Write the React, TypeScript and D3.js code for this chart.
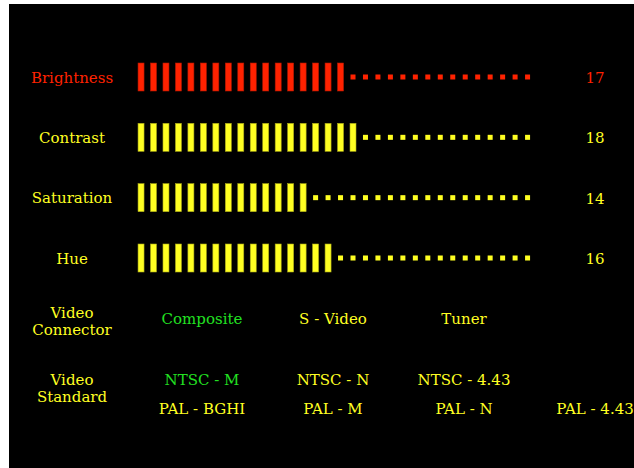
import React from 'react';
import * as d3 from 'd3';

// OSD style picture settings menu
const settingNames = ['Brightness', 'Contrast', 'Saturation', 'Hue'];
const settingLevels = [17, 18, 14, 16];
const maxLevel = 32;
const selectedSetting = 0;

const connectorOptions = ['Composite', 'S - Video', 'Tuner'];
const selectedConnector = 0;
const ntscOptions = ['NTSC - M', 'NTSC - N', 'NTSC - 4.43'];
const palOptions = ['PAL - BGHI', 'PAL - M', 'PAL - N', 'PAL - 4.43'];
const selectedStandard = 'NTSC - M';

const W = 634;
const H = 468;

const RED = '#ff2200';
const RED_EDGE = '#b01800';
const YELLOW = '#ffff22';
const YELLOW_EDGE = '#a8a818';
const GREEN = '#22e022';

const FONT = '"DejaVu Serif", serif';

const App: React.FC = () => {
  const steps = d3.range(maxLevel);
  const x = d3.scaleBand<number>().domain(steps).range([134.8, 533.8]);
  const y = d3.scalePoint<string>().domain(settingNames).range([77, 258]);
  const col = d3.scalePoint<number>().domain(d3.range(4)).range([202, 595]);

  const barW = 6;
  const barH = 28;
  const dot = 5;

  const txt = (s: string, tx: number, ty: number, fill: string, key: string) => (
    <text
      key={key}
      x={tx}
      y={ty}
      fill={fill}
      textAnchor="middle"
      fontFamily={FONT}
      fontSize={15}
    >
      {s}
    </text>
  );

  return (
    <div style={{ position: 'absolute', left: 0, top: 0, width: W, height: H }}>
      <svg width={W} height={H} viewBox={`0 0 ${W} ${H}`} style={{ display: 'block' }}>
        <rect x={0} y={0} width={W} height={H} fill="#ffffff" />
        <rect x={9} y={4} width={W - 9} height={H - 4} fill="#000000" />

        {settingNames.map((name, i) => {
          const cy = y(name)!;
          const sel = i === selectedSetting;
          const fill = sel ? RED : YELLOW;
          const edge = sel ? RED_EDGE : YELLOW_EDGE;
          return (
            <g key={name}>
              {txt(name, 72, cy + 5.5, fill, 'l')}
              {steps.map(s => {
                const cx = x(s)! + x.bandwidth() / 2;
                return s < settingLevels[i] ? (
                  <rect key={s} x={cx - barW / 2} y={cy - barH / 2}
                    width={barW} height={barH}
                    fill={fill} stroke={edge} strokeWidth={0.6} />
                ) : (
                  <rect key={s} x={cx - dot / 2} y={cy - dot / 2}
                    width={dot} height={dot} fill={fill} />
                );
              })}
              {txt(String(settingLevels[i]), 595, cy + 6, fill, 'v')}
            </g>
          );
        })}

        {txt('Video', 72, 317.5, YELLOW, 'vc1')}
        {txt('Connector', 72, 334.5, YELLOW, 'vc2')}
        {connectorOptions.map((c, i) =>
          txt(c, col(i)!, 323.5, i === selectedConnector ? GREEN : YELLOW, c)
        )}

        {txt('Video', 72, 384.5, YELLOW, 'vs1')}
        {txt('Standard', 72, 401.5, YELLOW, 'vs2')}
        {ntscOptions.map((c, i) =>
          txt(c, col(i)!, 385, c === selectedStandard ? GREEN : YELLOW, c)
        )}
        {palOptions.map((c, i) =>
          txt(c, col(i)!, 414, c === selectedStandard ? GREEN : YELLOW, c)
        )}
      </svg>
    </div>
  );
};

export default App;
